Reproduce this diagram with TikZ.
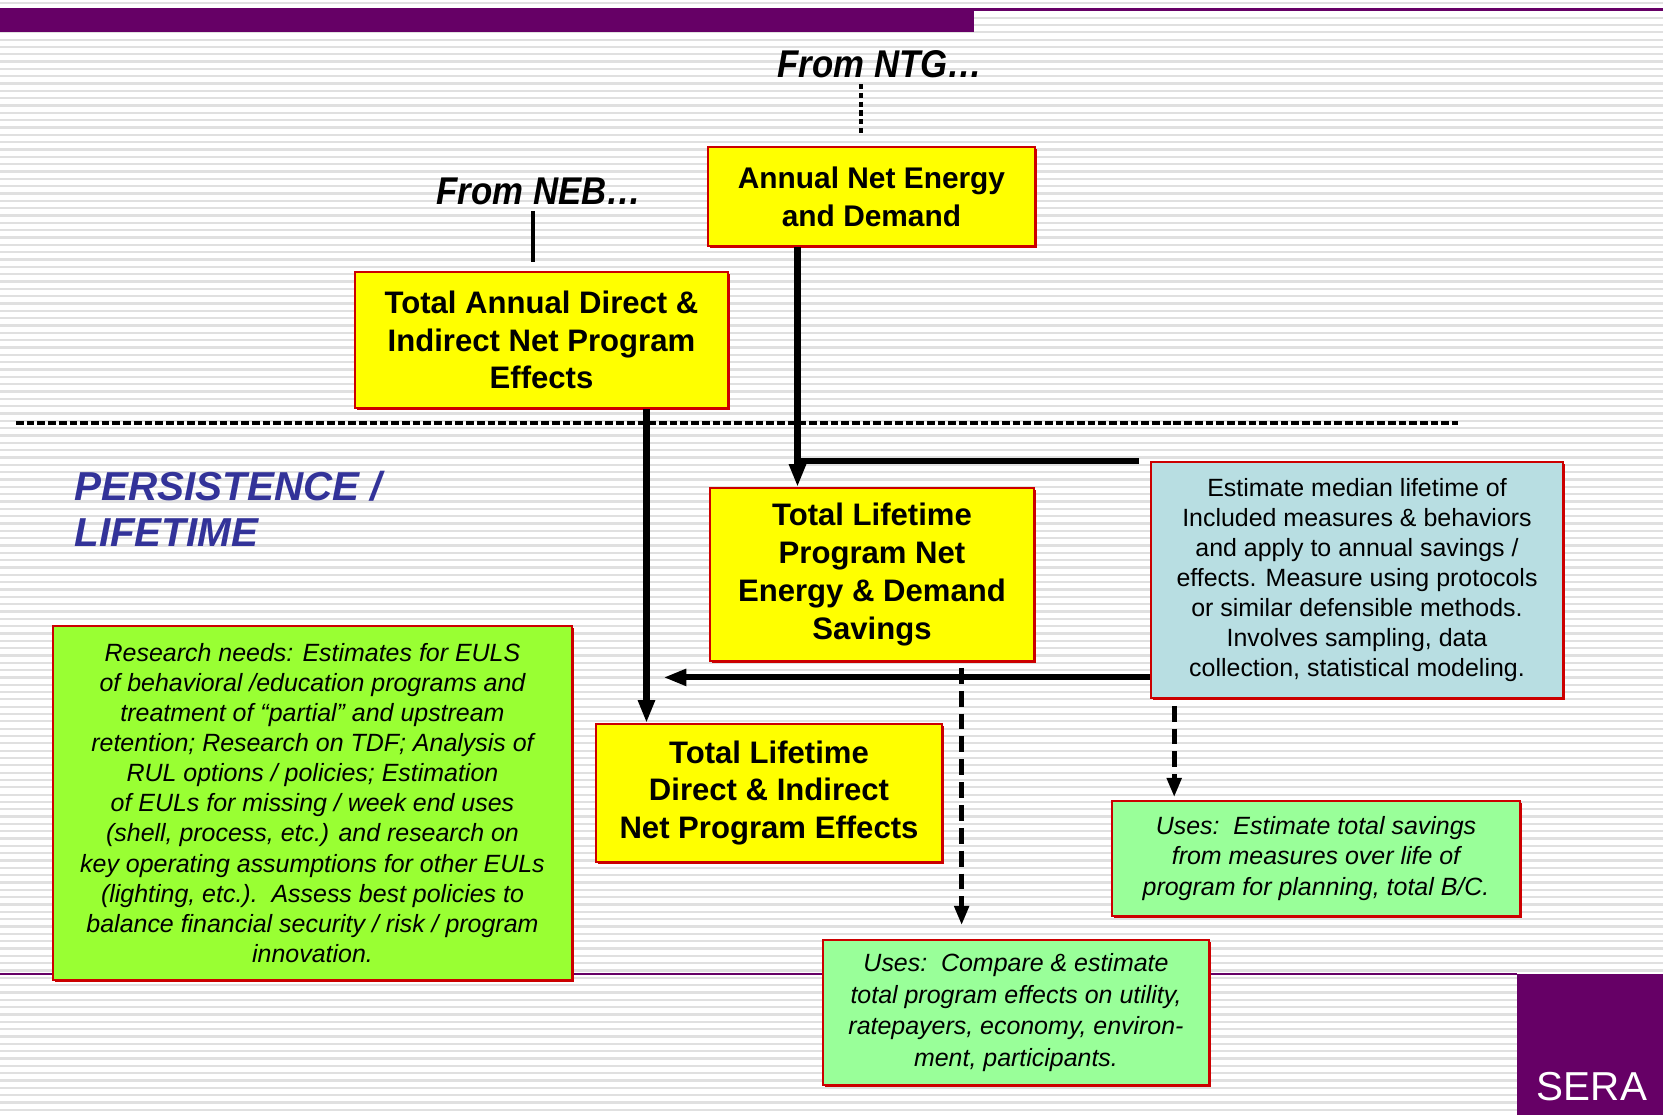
\documentclass[tikz,border=0pt]{standalone}
\usepackage{fontspec}
\setmainfont{Liberation Sans}
\usetikzlibrary{arrows.meta,positioning,calc,shadows}

\definecolor{sera}{RGB}{102,0,102}
\definecolor{boxred}{RGB}{204,0,0}
\definecolor{hiyellow}{RGB}{255,255,0}
\definecolor{paleblue}{RGB}{184,222,226}
\definecolor{limegreen}{RGB}{153,255,51}
\definecolor{mintgreen}{RGB}{153,255,153}
\definecolor{labelblue}{RGB}{51,51,153}
\definecolor{stripegray}{RGB}{224,224,224}

\newdimen\pxu \pxu=0.02cm

\begin{document}
\begin{tikzpicture}[x=0.02cm, y=-0.02cm,
  yel/.style={draw=boxred, line width=1.1pt, fill=hiyellow, align=center,
    inner sep=0pt, font=\fontsize{17.7}{21.5}\selectfont\bfseries,
    drop shadow={fill=boxred, opacity=1, shadow xshift=1.4pt, shadow yshift=-1.4pt}},
  note/.style={draw=boxred, line width=0.9pt, align=center, inner sep=0pt,
    font=\fontsize{14.2}{17.1}\selectfont\itshape,
    drop shadow={fill=boxred, opacity=1, shadow xshift=1.1pt, shadow yshift=-1.1pt}},
  src/.style={font=\fontsize{22}{26}\selectfont\bfseries\itshape, inner sep=0pt},
  flow/.style={line width=3.5pt, -{Triangle[length=13pt,width=9pt]}},
  bar/.style={line width=3.5pt},
  dflow/.style={line width=2.8pt, dash pattern=on 9pt off 4pt,
    -{Triangle[length=11pt,width=8pt]}},
  tie/.style={line width=1.8pt},
  divider/.style={line width=2.3pt, dash pattern=on 4.4pt off 1.7pt},
  stripe/.style={stripegray, line width=1.3pt},
]
\useasboundingbox (0,0) rectangle (1663,1115);
\fill[white] (0,0) rectangle (1663,1115);
% striped background
\foreach \k in {0,...,152}
  \draw[stripe] (0,\k*7.33+3) -- (1663,\k*7.33+3);
% purple frame
\fill[sera] (0,8) rectangle (974,32);
\fill[sera] (974,8) rectangle (1663,11);
\draw[sera, line width=0.9pt] (0,974) -- (1517,974);
\fill[sera] (1517,974) rectangle (1663,1115);
\node[white, font=\fontsize{23}{27}\selectfont, inner sep=0pt] (seramark) at (1592,1087) {SERA};

% annual level
\node[src] (ntg) at (880,64) {\scalebox{0.9}[1]{From NTG…}};
\node[src] (neb) at (539,191) {\scalebox{0.9}[1]{From NEB…}};
\node[yel, minimum width=327\pxu, minimum height=99\pxu,
  font=\fontsize{17}{21.5}\selectfont\bfseries] (annual) at (871.5,196.5)
  {Annual Net Energy\\and Demand};
\node[yel, minimum width=373\pxu, minimum height=136\pxu] (annualdi) at (541.5,340)
  {Total Annual Direct \&\\Indirect Net Program\\Effects};
\draw[divider] (16,423) -- (1458,423);

% lifetime level
\node[font=\fontsize{23}{26.5}\selectfont\bfseries\itshape, text=labelblue,
  align=left, inner sep=0pt, anchor=west] (persist) at (74,509)
  {PERSISTENCE /\\LIFETIME};
\node[yel, minimum width=324\pxu, minimum height=173\pxu] (lifesav) at (872,574.5)
  {Total Lifetime\\Program Net\\Energy \& Demand\\Savings};
\node[yel, minimum width=346\pxu, minimum height=138\pxu] (lifedi) at (769,793)
  {Total Lifetime\\Direct \& Indirect\\Net Program Effects};
\node[note, fill=paleblue, font=\fontsize{14.2}{17.1}\selectfont,
  minimum width=412\pxu, minimum height=236\pxu] (median) at (1357,580)
  {Estimate median lifetime of\\Included measures \& behaviors\\and apply to annual savings /\\effects. Measure using protocols\\or similar defensible methods.\\Involves sampling, data\\collection, statistical modeling.};
\node[note, fill=limegreen, minimum width=519\pxu, minimum height=354\pxu] (research) at (312.5,803)
  {Research needs: Estimates for EULS\\of behavioral /education programs and\\treatment of “partial” and upstream\\retention; Research on TDF; Analysis of\\RUL options / policies; Estimation\\of EULs for missing / week end uses\\(shell, process, etc.) and research on\\key operating assumptions for other EULs\\(lighting, etc.).~~Assess best policies to\\balance financial security / risk / program\\innovation.};
\node[note, fill=mintgreen, minimum width=408\pxu, minimum height=115\pxu] (usessav) at (1316,858.5)
  {Uses:~~Estimate total savings\\from measures over life of\\program for planning, total B/C.};
\node[note, fill=mintgreen, font=\fontsize{14.2}{18}\selectfont\itshape,
  minimum width=386\pxu, minimum height=145\pxu] (usescmp) at (1016,1012.5)
  {Uses:~~Compare \& estimate\\total program effects on utility,\\ratepayers, economy, environ-\\ment, participants.};

% inputs from above
\coordinate (ntgfoot) at (861,133);
\coordinate (nebfoot) at (533,262);
\draw[tie, dash pattern=on 3pt off 2pt] ([yshift=-6\pxu]ntg.south -| ntgfoot) -- (ntgfoot);
\draw[tie, line width=2.2pt] ([yshift=-6\pxu]neb.south -| nebfoot) -- (nebfoot);
% annual -> lifetime
\coordinate (trunkA) at ($(annual.south west)!0.275!(annual.south east)$);
\coordinate (trunkB) at ($(annualdi.south west)!0.78!(annualdi.south east)$);
\draw[flow] (trunkA) -- (trunkA |- lifesav.north);
\draw[bar] ([xshift=-11\pxu]median.north west) -- (trunkA |- median.north);
\draw[flow] (trunkB) -- (trunkB |- lifedi.north);
\coordinate (medleft) at ($(median.north west)!0.91!(median.south west)$);
\draw[flow] (medleft) -- ([xshift=17\pxu]trunkB |- medleft);
% uses
\coordinate (lsfoot) at ($(lifesav.south west)!0.775!(lifesav.south east)$);
\coordinate (mdfoot) at ($(median.south west)!0.058!(median.south east)$);
\draw[dflow] ([yshift=-6\pxu]lsfoot) -- ([yshift=14\pxu]lsfoot |- usescmp.north);
\draw[dflow] ([yshift=-7\pxu]mdfoot) -- ([yshift=3\pxu]mdfoot |- usessav.north);
\end{tikzpicture}
\end{document}
